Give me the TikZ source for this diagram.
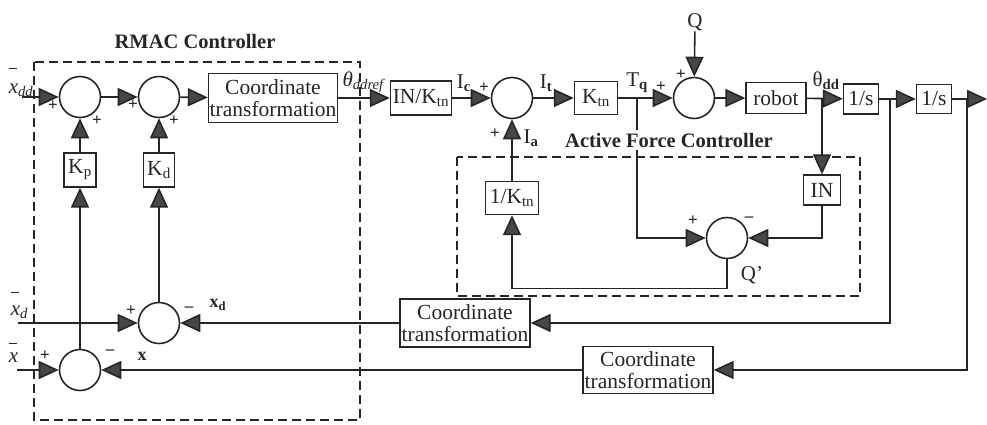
\documentclass[tikz,border=0pt]{standalone}
\usepackage{fontspec}
\setmainfont{Liberation Serif}
\usetikzlibrary{arrows.meta}
\definecolor{ink}{HTML}{262626}
% italic x with a detached bar raised above it
\newcommand\barredx[1]{\rlap{\raisebox{#1}{\rule{8pt}{1.3pt}}}\textit{x}}
\begin{document}
\begin{tikzpicture}[x=1pt,y=-1pt,color=ink,line width=1.6pt,
  blk/.style={draw,line width=1.4pt,fill=white,inner sep=1pt,align=center,
    font=\fontsize{21.5}{22}\selectfont},
  sumnode/.style={draw,circle,line width=1.6pt,minimum size=41pt,inner sep=0pt},
  sig/.style={-{Triangle[length=20pt,width=18pt,fill=ink!85]}},
  frame/.style={line width=1.4pt,dash pattern=on 9pt off 5pt},
  lbl/.style={font=\fontsize{21}{22}\selectfont,inner sep=0pt},
  sgn/.style={font=\bfseries\fontsize{17}{17}\selectfont,inner sep=0pt},
  title/.style={font=\bfseries\fontsize{20.5}{22}\selectfont,inner sep=0pt}]
\useasboundingbox (0,0) rectangle (987,424);

% ---------- controller frames ----------
\draw[frame] (34,62) rectangle (360,420);
\draw[frame] (457,157) rectangle (860,296);

% ---------- forward path ----------
\node[sumnode] (s1) at (80,97) {};
\node[sumnode] (s2) at (159,97) {};
\node[blk,minimum width=129pt,minimum height=49pt] (ct1) at (273,98) {Coordinate\\transformation};
\node[blk,minimum width=61pt,minimum height=34pt] (ink) at (421,98) {IN/K\textsubscript{tn}};
\node[sumnode] (s5) at (512,98) {};
\node[blk,minimum width=43pt,minimum height=33pt] (ktn) at (596,98) {K\textsubscript{tn}};
\node[sumnode] (s7) at (694,98) {};
\node[blk,minimum width=60pt,minimum height=31pt] (robot) at (776,98) {robot};
\node[blk,minimum width=35pt,minimum height=30pt] (is1) at (861,99) {1/s};
\node[blk,minimum width=35pt,minimum height=29pt] (is2) at (934,99) {1/s};

\node[lbl] (Q) at (695,22) {Q};

\coordinate (xddin) at (22,97);
\coordinate (jTq) at (637,98);
\coordinate (jth) at (822,98);
\coordinate (j2) at (890,99);
\coordinate (j3) at (967,99);
\coordinate (out) at (987,99);

\draw[sig] (xddin) -- (s1);
\draw[sig] (s1) -- (s2);
\draw[sig] (s2) -- (ct1);
\draw[sig] (ct1) -- (ink);
\draw[sig] (ink) -- (s5);
\draw[sig] (s5) -- (ktn);
\draw[sig] (ktn) -- (s7);
\draw[sig] (Q) -- (s7);
\draw[sig] (s7) -- (robot);
\draw[sig] (robot) -- (is1);
\draw[sig] (is1) -- (is2);
\draw[sig] (is2) -- (out);

% ---------- active force loop ----------
\node[blk,minimum width=53pt,minimum height=33pt] (invk) at (512,198) {1/K\textsubscript{tn}};
\node[blk,minimum width=37pt,minimum height=30pt] (inb) at (822,190) {IN};
\node[sumnode] (s6) at (727,238) {};

\draw[sig] (jTq) |- (s6.west);
\draw[sig] (jth) -- (inb);
\draw[sig] (inb.south) |- (s6.east);
\draw[sig] (s6.south) -- ++(0,29) -| (invk.south);
\draw[sig] (invk) -- (s5);

% ---------- RMAC gains and error sums ----------
\node[blk,minimum width=32pt,minimum height=34pt] (kp) at (80,170) {K\textsubscript{p}};
\node[blk,minimum width=31pt,minimum height=34pt] (kd) at (159,170) {K\textsubscript{d}};
\node[sumnode] (s3) at (159,323) {};
\node[sumnode] (s4) at (80,370) {};

\draw[sig] (kp) -- (s1);
\draw[sig] (kd) -- (s2);
\draw[sig] (s3) -- (kd);
\draw[sig] (s4) -- (kp);

\coordinate (xdin) at (18,323);
\coordinate (xin) at (17,370);
\draw[sig] (xdin) -- (s3);
\draw[sig] (xin) -- (s4);

% ---------- feedback transformations ----------
\node[blk,minimum width=130pt,minimum height=48pt] (ct2) at (465,323) {Coordinate\\transformation};
\node[blk,minimum width=130pt,minimum height=47pt] (ct3) at (648,370) {Coordinate\\transformation};
\draw[sig] (j2) |- (ct2.east);
\draw[sig] (j3) |- (ct3.east);
\draw[sig] (ct2) -- (s3);
\draw[sig] (ct3) -- (s4);

% ---------- frame titles (the AFC title masks the torque branch) ----------
\node[title] (tRMAC) at (195,41) {RMAC Controller};
\node[title,fill=white,inner ysep=3pt] (tAFC) at (669,140) {Active Force Controller};

% ---------- signal labels ----------
\node[lbl,anchor=base west] (lxdd) at (8,93) {\barredx{24pt}\textsubscript{\textit{dd}}};
\node[lbl,anchor=base west] (lxd) at (10,315) {\barredx{22pt}\textsubscript{\textit{d}}};
\node[lbl,anchor=base west] (lx) at (8,362) {\barredx{18pt}};
\node[lbl] (lth) at (364,82) {\textit{θ}\textsubscript{\textit{ddref}}};
\node[lbl] (lIc) at (464,83) {I\textsubscript{\textbf{c}}};
\node[lbl] (lIt) at (546,83) {I\textsubscript{\textbf{t}}};
\node[lbl] (lTq) at (637,83) {T\textsubscript{\textbf{q}}};
\node[lbl] (lIa) at (531,138) {I\textsubscript{\textbf{a}}};
\node[lbl] (lthdd) at (826,81) {θ\textsubscript{\textbf{dd}}};
\node[lbl] (lQp) at (752,275) {Q’};
\node[lbl,font=\bfseries\fontsize{18}{18}\selectfont] (lxdb) at (218,305) {x\textsubscript{d}};
\node[lbl,font=\bfseries\fontsize{18}{18}\selectfont] (lxb) at (142,356) {x};

% ---------- summing signs ----------
\node[sgn] (p1a) at (53,106) {+};
\node[sgn] (p1b) at (97,121) {+};
\node[sgn] (p2a) at (133,105) {+};
\node[sgn] (p2b) at (174,121) {+};
\node[sgn] (p5a) at (484,88) {+};
\node[sgn] (p5b) at (495,134) {+};
\node[sgn] (p7a) at (661,87) {+};
\node[sgn] (p7b) at (681,75) {+};
\node[sgn] (p6a) at (693,221) {+};
\node[sgn] (m6b) at (749,219) {--};
\node[sgn] (p3a) at (131,311) {+};
\node[sgn] (m3b) at (189,309) {--};
\node[sgn] (p4a) at (45,356) {+};
\node[sgn] (m4b) at (110,352) {--};
\end{tikzpicture}
\end{document}
